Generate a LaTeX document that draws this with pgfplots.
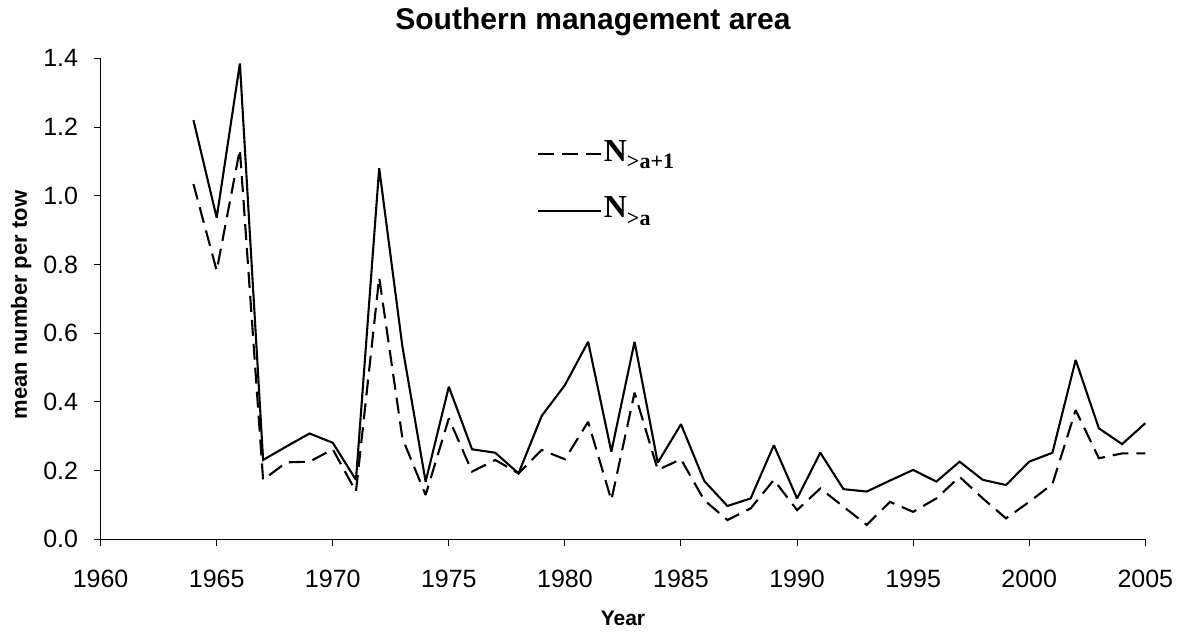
\documentclass[border=0pt]{standalone}
\usepackage{pgfplots}
\pgfplotsset{compat=1.18}
\usepackage{fontspec}
\setmainfont{Liberation Sans}
\newfontfamily\legserif{Liberation Serif}
\begin{document}
\begin{tikzpicture}
\begin{axis}[
  scale only axis,
  width=1044.7pt, height=481pt,
  xmin=1960, xmax=2005, ymin=0, ymax=1.4,
  axis x line*=bottom, axis y line*=left,
  axis line style={line width=1pt, -},
  xtick={1960,1965,...,2005},
  ytick={0,0.2,0.4,0.6,0.8,1.0,1.2,1.4},
  tick align=outside,
  major tick length=7pt,
  every tick/.style={black, line width=1pt},
  /pgf/number format/assume math mode=true,
  tick label style={font=\fontsize{25}{25}\selectfont},
  xticklabel style={/pgf/number format/1000 sep={}, yshift=-20pt},
  yticklabel style={/pgf/number format/.cd, fixed, fixed zerofill, precision=1, /tikz/.cd, xshift=-12pt},
  title={Southern management area},
  title style={font=\bfseries\fontsize{30}{30}\selectfont, at={(0.4713,1)}, anchor=base, yshift=22.6pt},
  xlabel={Year},
  xlabel style={font=\bfseries\fontsize{21}{21}\selectfont, at={(axis description cs:0.5,0)}, anchor=base, yshift=-86.4pt},
  ylabel={mean number per tow},
  ylabel style={font=\bfseries\fontsize{22}{22}\selectfont, at={(axis description cs:-0.0705,0.487)}, anchor=base, rotate=0},
  legend style={draw=none, fill=none, at={(0.4175,0.829)}, anchor=north west, inner sep=0pt, outer sep=0pt,
    row sep=34pt, column sep=2pt, cells={anchor=base west}, nodes={inner sep=0pt}},
  legend image code/.code={\draw[#1] (0pt,7.4pt) -- (63pt,7.4pt);},
  clip=false,
]
\addplot[black, line width=2.1pt, dash pattern=on 16pt off 8pt, line join=miter, miter limit=2] coordinates {
(1964,1.034) (1965,0.782) (1966,1.135) (1967,0.173) (1968,0.224) (1969,0.226) (1970,0.262)
(1971,0.139) (1972,0.762) (1973,0.294) (1974,0.129) (1975,0.352) (1976,0.197) (1977,0.231)
(1978,0.192) (1979,0.260) (1980,0.233) (1981,0.342) (1982,0.114) (1983,0.427) (1984,0.202)
(1985,0.233) (1986,0.114) (1987,0.056) (1988,0.090) (1989,0.173) (1990,0.085) (1991,0.148)
(1992,0.095) (1993,0.042) (1994,0.109) (1995,0.080) (1996,0.119) (1997,0.182) (1998,0.119)
(1999,0.061) (2000,0.109) (2001,0.161) (2002,0.376) (2003,0.236) (2004,0.250) (2005,0.250)
};
\addlegendentry{\legserif\bfseries\fontsize{32}{32}\selectfont N\raisebox{-7.3pt}{\fontsize{22}{22}\selectfont >a+1}}
\addplot[black, line width=2.1pt, line join=miter, miter limit=2] coordinates {
(1964,1.220) (1965,0.936) (1966,1.385) (1967,0.231) (1968,0.270) (1969,0.308) (1970,0.281)
(1971,0.173) (1972,1.080) (1973,0.561) (1974,0.168) (1975,0.444) (1976,0.262) (1977,0.252)
(1978,0.192) (1979,0.359) (1980,0.449) (1981,0.575) (1982,0.255) (1983,0.575) (1984,0.223)
(1985,0.335) (1986,0.170) (1987,0.097) (1988,0.119) (1989,0.274) (1990,0.119) (1991,0.252)
(1992,0.146) (1993,0.139) (1994,0.171) (1995,0.202) (1996,0.168) (1997,0.226) (1998,0.173)
(1999,0.158) (2000,0.226) (2001,0.252) (2002,0.522) (2003,0.323) (2004,0.277) (2005,0.338)
};
\addlegendentry{\legserif\bfseries\fontsize{32}{32}\selectfont N\raisebox{-7.3pt}{\fontsize{22}{22}\selectfont >a}}
\end{axis}
\path (current axis.south west) ++(-100.6pt,-93.7pt) rectangle ([shift={(41.7pt,58.3pt)}]current axis.north east);
\end{tikzpicture}
\end{document}
